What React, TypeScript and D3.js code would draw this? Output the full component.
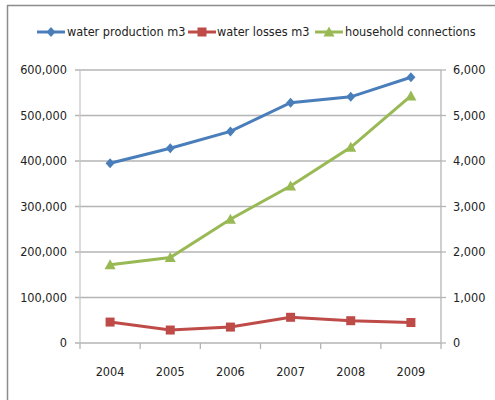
import React from "react";
import * as d3 from "d3";

const years = ["2004", "2005", "2006", "2007", "2008", "2009"];
const waterProduction = [395000, 428000, 465000, 528000, 541000, 584000];
const waterLosses = [46000, 28500, 35000, 56500, 49000, 45000];
const householdConnections = [1720, 1880, 2720, 3450, 4300, 5430];
const leftTicks = [0, 100000, 200000, 300000, 400000, 500000, 600000];
const rightTicks = [0, 1000, 2000, 3000, 4000, 5000, 6000];

const W = 495;
const H = 400;
const margin = { left: 80, right: 441, top: 70, bottom: 343 };
const FONT = "'DejaVu Sans Condensed', 'Liberation Sans Narrow', Arial, sans-serif";
const FS = 12.6;
const BLUE = "#4a7ebb";
const RED = "#be4b48";
const GREEN = "#98b954";

export default function App() {
  const x = d3.scaleBand<string>().domain(years).range([margin.left, margin.right]);
  const yL = d3.scaleLinear().domain([0, 600000]).range([margin.bottom, margin.top]);
  const yR = d3.scaleLinear().domain([0, 6000]).range([margin.bottom, margin.top]);
  const cx = (y: string) => (x(y) as number) + x.bandwidth() / 2;
  const fmt = d3.format(",");

  const lineL = d3.line<number>().x((_, i) => cx(years[i])).y((d) => yL(d));
  const lineR = d3.line<number>().x((_, i) => cx(years[i])).y((d) => yR(d));

  const diamond = (px: number, py: number, k: number) => (
    <path key={k} d={`M${px},${py - 5}L${px + 4.5},${py}L${px},${py + 5}L${px - 4.5},${py}Z`} fill={BLUE} />
  );
  const square = (px: number, py: number, k: number) => (
    <rect key={k} x={px - 4.5} y={py - 4.5} width={9} height={9} fill={RED} />
  );
  const triangle = (px: number, py: number, k: number) => (
    <path key={k} d={`M${px},${py - 5.5}L${px + 5.5},${py + 4.5}L${px - 5.5},${py + 4.5}Z`} fill={GREEN} />
  );

  const legendY = 32;
  const legend = [
    { label: "water production m3", color: BLUE, x0: 37, tx: 67, marker: diamond },
    { label: "water losses m3", color: RED, x0: 188, tx: 217, marker: square },
    { label: "household connections", color: GREEN, x0: 315, tx: 345, marker: triangle },
  ];

  return (
    <svg width={W} height={H} style={{ position: "absolute", left: 0, top: 0, fontFamily: FONT }}>
      <rect x={0} y={0} width={W} height={H} fill="#fff" />
      <line x1={7.5} y1={5} x2={7.5} y2={H} stroke="#8c8c8c" strokeWidth={1.5} />
      <line x1={7} y1={5.5} x2={W} y2={5.5} stroke="#8c8c8c" strokeWidth={1.5} />

      {/* gridlines */}
      {leftTicks.map((t) => (
        <line key={"g" + t} x1={margin.left - 5} x2={margin.right} y1={yL(t)} y2={yL(t)} stroke="#b5b5b5" strokeWidth={1.3} />
      ))}
      {rightTicks.map((t) => (
        <line key={"r" + t} x1={margin.right} x2={margin.right + 5} y1={yR(t)} y2={yR(t)} stroke="#b5b5b5" strokeWidth={1.3} />
      ))}
      <line x1={margin.left} x2={margin.left} y1={margin.top} y2={margin.bottom} stroke="#c8c8c8" strokeWidth={1.3} />
      <line x1={margin.right} x2={margin.right} y1={margin.top} y2={margin.bottom} stroke="#b5b5b5" strokeWidth={1.3} />
      {[...years.map((y) => x(y) as number), margin.right].map((px, i) => (
        <line key={"xt" + i} x1={px} x2={px} y1={margin.bottom} y2={margin.bottom + 6} stroke="#b5b5b5" strokeWidth={1.3} />
      ))}

      {/* tick labels */}
      {leftTicks.map((t) => (
        <text key={"lt" + t} x={67} y={yL(t)} dy="0.35em" textAnchor="end" fontSize={FS} fill="#222">
          {fmt(t)}
        </text>
      ))}
      {rightTicks.map((t) => (
        <text key={"rt" + t} x={453} y={yR(t)} dy="0.35em" textAnchor="start" fontSize={FS} fill="#222">
          {fmt(t)}
        </text>
      ))}
      {years.map((y) => (
        <text key={"xl" + y} x={cx(y)} y={372} dy="0.35em" textAnchor="middle" fontSize={FS} fill="#222">
          {y}
        </text>
      ))}

      {/* series */}
      <path d={lineR(householdConnections) || ""} fill="none" stroke={GREEN} strokeWidth={3} />
      {householdConnections.map((v, i) => triangle(cx(years[i]), yR(v), i))}
      <path d={lineL(waterLosses) || ""} fill="none" stroke={RED} strokeWidth={3} />
      {waterLosses.map((v, i) => square(cx(years[i]), yL(v), i))}
      <path d={lineL(waterProduction) || ""} fill="none" stroke={BLUE} strokeWidth={3} />
      {waterProduction.map((v, i) => diamond(cx(years[i]), yL(v), i))}

      {/* legend */}
      {legend.map((l, i) => (
        <g key={"lg" + i}>
          <line x1={l.x0} x2={l.x0 + 28} y1={legendY} y2={legendY} stroke={l.color} strokeWidth={3} />
          {l.marker(l.x0 + 14, legendY, i)}
          <text x={l.tx} y={legendY} dy="0.35em" fontSize={FS} fill="#222">
            {l.label}
          </text>
        </g>
      ))}
    </svg>
  );
}
